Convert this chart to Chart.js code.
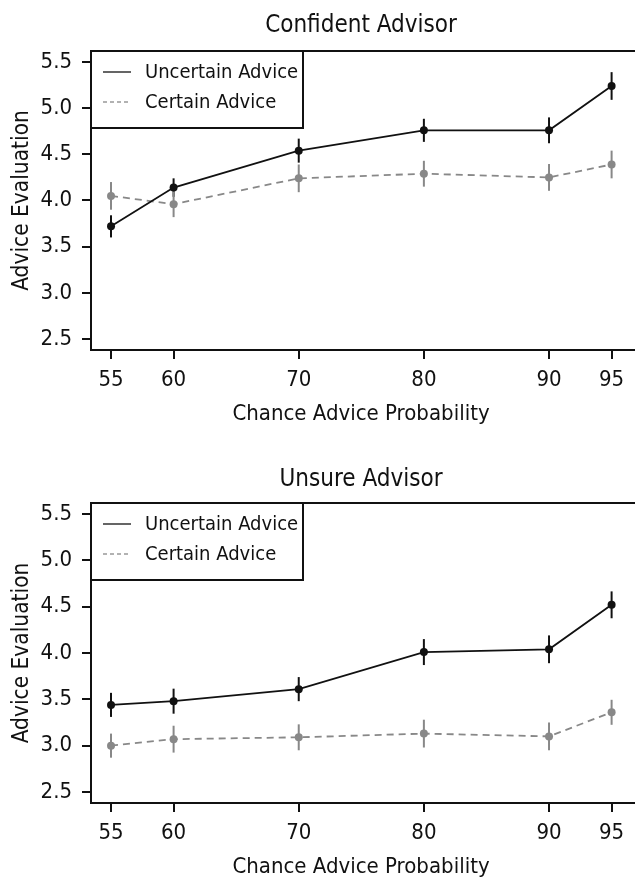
<!DOCTYPE html>
<html>
<head>
<meta charset="utf-8">
<script src="https://cdn.jsdelivr.net/npm/chart.js@4.4.1/dist/chart.umd.min.js"></script>
<style>
  html, body { margin: 0; padding: 0; background: #fff; overflow: hidden; }
  canvas { display: block; }
</style>
</head>
<body>
<canvas id="confidentChart" width="635" height="439"></canvas>
<canvas id="unsureChart" width="635" height="439"></canvas>
<script>
// x values (chance advice probability)
const probs = [55, 60, 70, 80, 90, 95];
const xTicks = [55, 60, 70, 80, 90, 95];
const yTicks = [2.5, 3.0, 3.5, 4.0, 4.5, 5.0, 5.5];

// Confident advisor
const confUncertain = [3.72, 4.14, 4.54, 4.76, 4.76, 5.24];
const confUncertainErr = [0.12, 0.10, 0.13, 0.125, 0.14, 0.15];
const confCertain = [4.05, 3.96, 4.24, 4.29, 4.25, 4.39];
const confCertainErr = [0.15, 0.14, 0.15, 0.14, 0.145, 0.15];

// Unsure advisor
const unsUncertain = [3.44, 3.48, 3.61, 4.01, 4.04, 4.52];
const unsUncertainErr = [0.13, 0.135, 0.13, 0.14, 0.15, 0.145];
const unsCertain = [3.00, 3.07, 3.09, 3.13, 3.10, 3.36];
const unsCertainErr = [0.13, 0.145, 0.14, 0.15, 0.15, 0.135];

const FONT = "'Liberation Sans Narrow', 'Arial Narrow', 'DejaVu Sans Condensed', sans-serif";
const GRAY = '#888888';
Chart.defaults.font.family = FONT;
Chart.defaults.color = '#111';

// error bars, drawn under the points
const errorBars = {
  id: 'errorBars',
  beforeDatasetsDraw(chart) {
    const ctx = chart.ctx;
    const x = chart.scales.x, y = chart.scales.y;
    ctx.save();
    chart.data.datasets.forEach(ds => {
      ctx.strokeStyle = ds.borderColor;
      ctx.lineWidth = 2;
      ds.data.forEach((p, i) => {
        const px = x.getPixelForValue(p.x);
        ctx.beginPath();
        ctx.moveTo(px, y.getPixelForValue(p.y - ds.errors[i]));
        ctx.lineTo(px, y.getPixelForValue(p.y + ds.errors[i]));
        ctx.stroke();
      });
    });
    ctx.restore();
  }
};

// plot frame (top / left / bottom), boxed legend and main title
const frame = {
  id: 'frame',
  afterDraw(chart, args, opts) {
    const ctx = chart.ctx;
    const a = chart.chartArea;
    ctx.save();
    ctx.strokeStyle = '#111';
    ctx.lineWidth = 2;
    ctx.beginPath();
    ctx.moveTo(chart.width, a.top);
    ctx.lineTo(a.left, a.top);
    ctx.lineTo(a.left, a.bottom);
    ctx.lineTo(chart.width, a.bottom);
    ctx.stroke();

    // legend box
    ctx.fillStyle = '#fff';
    ctx.fillRect(a.left, a.top, 212, 77);
    ctx.strokeRect(a.left, a.top, 212, 77);
    ctx.font = '20px ' + FONT;
    ctx.textBaseline = 'middle';
    ctx.textAlign = 'left';
    chart.data.datasets.forEach((ds, i) => {
      const ly = a.top + 21 + i * 30;
      ctx.strokeStyle = i === 0 ? '#111' : '#999';
      ctx.lineWidth = 1.3;
      ctx.setLineDash(i === 0 ? [] : [4, 3]);
      ctx.beginPath();
      ctx.moveTo(a.left + 12, ly);
      ctx.lineTo(a.left + 40, ly);
      ctx.stroke();
      ctx.setLineDash([]);
      ctx.fillStyle = '#111';
      ctx.fillText(ds.label, a.left + 54, ly + 1);
    });

    // main title
    ctx.font = '24px ' + FONT;
    ctx.textAlign = 'center';
    ctx.textBaseline = 'alphabetic';
    ctx.fillText(opts.title, (a.left + a.right) / 2, opts.titleBaseline);
    ctx.restore();
  }
};

function series(vals) {
  return probs.map((p, i) => ({ x: p, y: vals[i] }));
}

function makeChart(id, title, upper, upperErr, lower, lowerErr, lay) {
  return new Chart(document.getElementById(id), {
    type: 'line',
    data: {
      datasets: [{
        label: 'Uncertain Advice',
        data: series(upper),
        errors: upperErr,
        borderColor: '#111',
        backgroundColor: '#111',
        borderWidth: 1.8,
        pointRadius: 4,
        pointBorderWidth: 0,
        tension: 0
      }, {
        label: 'Certain Advice',
        data: series(lower),
        errors: lowerErr,
        borderColor: GRAY,
        backgroundColor: GRAY,
        borderWidth: 1.8,
        borderDash: [7, 5],
        pointRadius: 4,
        pointBorderWidth: 0,
        tension: 0
      }]
    },
    options: {
      responsive: false,
      animation: false,
      layout: { padding: { top: lay.top, left: 0, right: 0, bottom: 0 } },
      scales: {
        x: {
          type: 'linear',
          min: 53.4,
          max: 96.55,
          afterBuildTicks: s => { s.ticks = xTicks.map(v => ({ value: v })); },
          afterFit: s => { s.height = lay.xHeight; },
          border: { display: false },
          grid: { drawOnChartArea: false, drawTicks: true, tickLength: 9, color: '#111', lineWidth: 2 },
          ticks: { font: { size: 22 }, color: '#111', padding: 8, maxRotation: 0 },
          title: {
            display: true,
            text: 'Chance Advice Probability',
            font: { size: 22, lineHeight: 1 },
            color: '#111',
            padding: { top: 0, bottom: lay.xTitlePad }
          }
        },
        y: {
          min: 2.381,
          max: 5.619,
          afterBuildTicks: s => { s.ticks = yTicks.map(v => ({ value: v })); },
          afterFit: s => { s.width = 91; },
          border: { display: false },
          grid: { drawOnChartArea: false, drawTicks: true, tickLength: 9, color: '#111', lineWidth: 2 },
          ticks: { font: { size: 22 }, color: '#111', padding: 10, callback: v => v.toFixed(1) },
          title: {
            display: true,
            text: 'Advice Evaluation',
            font: { size: 22.5, lineHeight: 1 },
            color: '#111',
            padding: { top: 11, bottom: 0 }
          }
        }
      },
      plugins: {
        legend: { display: false },
        tooltip: { enabled: false },
        frame: { title: title, titleBaseline: lay.titleBaseline }
      }
    },
    plugins: [errorBars, frame]
  });
}

makeChart('confidentChart', 'Confident Advisor', confUncertain, confUncertainErr, confCertain, confCertainErr,
  { top: 51, xHeight: 89, xTitlePad: 14, titleBaseline: 32 });
makeChart('unsureChart', 'Unsure Advisor', unsUncertain, unsUncertainErr, unsCertain, unsCertainErr,
  { top: 64, xHeight: 75, xTitlePad: 0, titleBaseline: 47 });
</script>
</body>
</html>
